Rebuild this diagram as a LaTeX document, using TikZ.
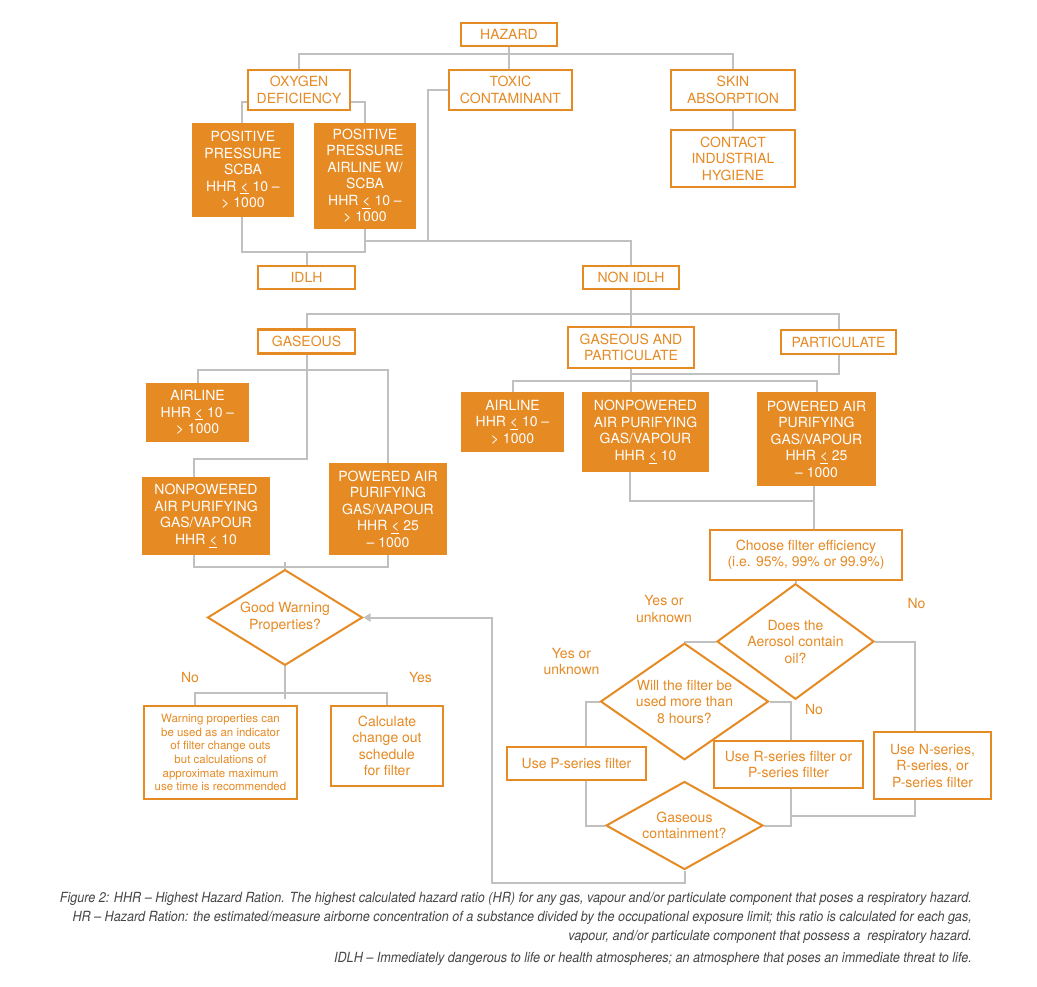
\documentclass[tikz,border=0pt]{standalone}
\usepackage{fontspec}
\setmainfont{TeX Gyre Heros}
\newfontfamily\capfont[FakeStretch=0.9,Ligatures=TeX]{TeX Gyre Heros}
\usetikzlibrary{shapes.geometric,arrows.meta,backgrounds}
\definecolor{hzorange}{RGB}{230,138,36}
\definecolor{hzgrey}{RGB}{192,192,192}
\definecolor{captext}{RGB}{70,70,70}

\begin{document}
\begin{tikzpicture}[x=1pt,y=-1pt,
  every node/.style={font=\fontsize{14}{16.5}\selectfont,align=center,inner sep=0pt},
  box/.style={draw=hzorange,line width=2.4pt,text=hzorange,fill=white},
  solidbox/.style={fill=hzorange,text=white},
  ask/.style={diamond,draw=hzorange,line width=2pt,text=hzorange,fill=white,inner sep=-6pt},
  answer/.style={text=hzorange},
  link/.style={draw=hzgrey,line width=2pt},
  backarrow/.style={link,-{Triangle[width=8pt,length=7pt]}}]

  \useasboundingbox (0,0) rectangle (1037,987);

  \node[box,minimum width=96,minimum height=23]  (hazard)  at (509,34.5)  {HAZARD};
  \node[box,minimum width=102,minimum height=40] (oxygen)  at (299,90)    {OXYGEN\\DEFICIENCY};
  \node[box,minimum width=123,minimum height=40] (toxic)   at (510.5,90)  {TOXIC\\CONTAMINANT};
  \node[box,minimum width=124,minimum height=40] (skin)    at (733,90)    {SKIN\\ABSORPTION};
  \node[box,minimum width=124,minimum height=57] (contact) at (733,158.5) {CONTACT\\INDUSTRIAL\\HYGIENE};

  \node[solidbox,minimum width=102,minimum height=94]  (scba)    at (243,170) {POSITIVE\\PRESSURE\\SCBA\\HHR \underline{<} 10 –\\> 1000};
  \node[solidbox,minimum width=102,minimum height=106] (airscba) at (365,176) {POSITIVE\\PRESSURE\\AIRLINE W/\\SCBA\\HHR \underline{<} 10 –\\> 1000};

  \node[box,minimum width=97,minimum height=23]  (idlh)        at (306.5,277.5) {IDLH};
  \node[box,minimum width=96,minimum height=23]  (nonidlh)     at (631,277.5)   {NON IDLH};
  \node[box,minimum width=97,minimum height=24]  (gaseous)     at (306.5,341.5) {GASEOUS};
  \node[box,minimum width=126,minimum height=41] (gaspart)     at (631,347.5)   {GASEOUS AND\\PARTICULATE};
  \node[box,minimum width=115,minimum height=24] (particulate) at (838.5,342)   {PARTICULATE};

  \node[solidbox,minimum width=103,minimum height=59] (airline)  at (197.5,412.5) {AIRLINE\\HHR \underline{<} 10 –\\> 1000};
  \node[solidbox,minimum width=128,minimum height=78] (nonpow)   at (206,516)     {NONPOWERED\\AIR PURIFYING\\GAS/VAPOUR\\HHR \underline{<} 10};
  \node[solidbox,minimum width=118,minimum height=92] (pow)      at (388,509)     {POWERED AIR\\PURIFYING\\GAS/VAPOUR\\HHR \underline{<} 25\\– 1000};
  \node[solidbox,minimum width=103,minimum height=60] (airlinep) at (512.5,422)   {AIRLINE\\HHR \underline{<} 10 –\\> 1000};
  \node[solidbox,minimum width=127,minimum height=80] (nonpowp)  at (645.5,432)   {NONPOWERED\\AIR PURIFYING\\GAS/VAPOUR\\HHR \underline{<} 10};
  \node[solidbox,minimum width=119,minimum height=94] (powp)     at (816.5,439)   {POWERED AIR\\PURIFYING\\GAS/VAPOUR\\HHR \underline{<} 25\\– 1000};

  \node[box,minimum width=192,minimum height=50] (choose) at (806,555) {Choose filter efficiency\\(i.e. 95\%, 99\% or 99.9\%)};

  \node[ask,minimum width=155,minimum height=87] (warnq) at (285,617.5) {Good Warning\\Properties?};
  \node[box,minimum width=153,minimum height=93,font=\fontsize{11.5}{13.7}\selectfont] (warnbox) at (220.5,752.5)
    {Warning properties can\\be used as an indicator\\of filter change outs\\but calculations of\\approximate maximum\\use time is recommended};
  \node[box,minimum width=112,minimum height=80] (calc) at (387,746) {Calculate\\change out\\schedule\\for filter};

  \node[ask,minimum width=157,minimum height=87]  (oilq)    at (795.5,641.5) {Does the\\Aerosol contain\\oil?};
  \node[ask,minimum width=168,minimum height=105] (filterq) at (684.5,701.5) {Will the filter be\\used more than\\8 hours?};
  \node[box,minimum width=139,minimum height=33] (pser) at (576.5,763.5) {Use P-series filter};
  \node[box,minimum width=149,minimum height=47] (rser) at (788.5,764.5) {Use R-series filter or\\P-series filter};
  \node[box,minimum width=117,minimum height=67] (nser) at (932.5,765.5) {Use N-series,\\R-series, or\\P-series filter};
  \node[ask,minimum width=157,minimum height=88] (gascq) at (684.5,825.5) {Gaseous\\containment?};

  \node[answer] (nowarn)  at (190,677.5)   {No};
  \node[answer] (yeswarn) at (420.5,677.5) {Yes};
  \node[answer] (yesoil)  at (664,609)     {Yes or\\unknown};
  \node[answer] (nooil)   at (916.5,603)   {No};
  \node[answer] (yeshour) at (571.5,661.5) {Yes or\\unknown};
  \node[answer] (nohour)  at (814,709)     {No};

  \coordinate (tj) at (428,241);
  \coordinate (back) at (492,0);

  \begin{scope}[on background layer]
    \fill[white] (0,0) rectangle (1037,987);
    \path[link] (hazard.south) -- (hazard.south |- toxic.north);
    \path[link] (oxygen.north) -- ++(0,-15) -| (skin.north);
    \path[link] (skin.south) -- (contact.north);
    \path[link] ([yshift=-12pt]oxygen.west) -| ([xshift=-1pt]scba.north);
    \path[link] ([yshift=-12pt]oxygen.east) -| (airscba.north);
    \path[link] ([xshift=-1pt]scba.south) -- ++(0,35) -| (airscba.south);
    \path[link] (idlh.north) -- ++(0,-14);
    \path[link] (toxic.west) -| (tj) -| (nonidlh.north);
    \path[link] (airscba.south |- tj) -- (tj);
    \path[link] (gaseous.north) -- ++(0,-14) -| (particulate.north);
    \path[link] (nonidlh.south) -- (gaspart.north);
    \path[link] (particulate.south) -- ++(0,19) -| (gaspart.south);
    \path[link] (airlinep.north) -- ++(0,-11) -| (powp.north);
    \path[link] (gaspart.south) -- (gaspart.south |- nonpowp.north);
    \path[link] (airline.north) -- ++(0,-13) -| (pow.north);
    \path[link] (gaseous.south) -- ++(0,104) -| ([xshift=-12pt]nonpow.north);
    \path[link] ([xshift=-12pt]nonpow.south) -- ++(0,12) -| (pow.south);
    \path[link] (warnq.north) -- ++(0,-7);
    \path[link] ([xshift=-16pt]nonpowp.south) -- ++(0,29) -| ([xshift=-3pt]powp.south);
    \path[link] ([xshift=-3pt]powp.south) -- ([xshift=-3pt]powp.south |- choose.north);
    \path[link] (oilq.north |- choose.south) -- (oilq.north);
    \path[link] (oilq.west) -| (filterq.north);
    \path[link] (oilq.east) -| ([xshift=-17.5pt]nser.north);
    \path[link] (filterq.west) -| ([xshift=9.5pt]pser.north);
    \path[link] (filterq.east) -| ([xshift=2.5pt]rser.north);
    \path[link] ([xshift=9.5pt]pser.south) |- (gascq.west);
    \path[link] ([xshift=2.5pt]rser.south) |- (gascq.east);
    \path[link] ([xshift=-17.5pt]nser.south) -- ++(0,16) -| ([xshift=2.5pt]rser.south);
    \path[backarrow] (gascq.south) -- ++(0,12) -| (back |- warnq.east) -- (warnq.east);
    \path[link] (warnq.south) -- ++(0,33);
    \path[link] ([xshift=-26pt]warnbox.north) -- ++(0,-12) -| (calc.north);
  \end{scope}

  \node[anchor=north east,align=right,text=captext,font=\capfont\itshape\fontsize{14}{19}\selectfont] (caption) at (972,892)
    {Figure 2: HHR – Highest Hazard Ration. The highest calculated hazard ratio (HR) for any gas, vapour and/or particulate component that poses a respiratory hazard.\\
     HR – Hazard Ration: the estimated/measure airborne concentration of a substance divided by the occupational exposure limit; this ratio is calculated for each gas,\\
     vapour, and/or particulate component that possess a\ \ respiratory hazard.\\[3pt]
     IDLH – Immediately dangerous to life or health atmospheres; an atmosphere that poses an immediate threat to life.};
\end{tikzpicture}
\end{document}
